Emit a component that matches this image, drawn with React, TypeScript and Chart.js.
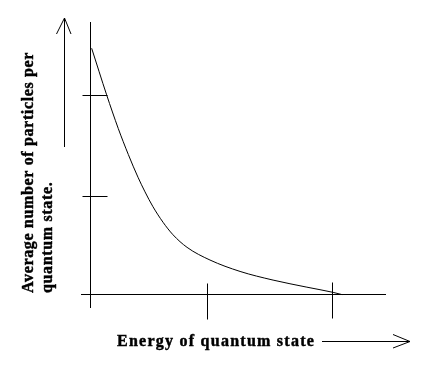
import React, { useEffect, useRef } from "react";
import { Chart, registerables } from "chart.js";

Chart.register(...registerables);

// Curve: average occupation vs energy
const curveX = [0.011, 0.139, 0.238, 0.324, 0.407, 0.467, 0.535, 0.621, 0.706, 0.826, 1.022, 1.279, 1.561, 1.85, 2.074, 2.151];
const curveY = [2.503, 2.029, 1.688, 1.423, 1.191, 1.042, 0.891, 0.733, 0.606, 0.478, 0.349, 0.233, 0.145, 0.073, 0.02, -0.003];

// Unlabelled tick marks
const xTickValues = [1.0, 2.07];
const yTickValues = [1.0, 2.024];

// Axis ranges
const xRange = [-0.08, 2.526];
const yRange = [-0.139, 2.77];

// Titles
const xTitle = "Energy of quantum state";
const yTitleLines = ["Average number of particles per", "quantum state."];

const FONT = 'bold 16px "Liberation Serif", "Times New Roman", serif';

function boldText(ctx: CanvasRenderingContext2D, text: string, x: number, y: number) {
  ctx.fillText(text, x, y);
  ctx.lineWidth = 0.45;
  ctx.strokeText(text, x, y);
}

const decorPlugin = {
  id: "decor",
  afterDraw(chart: any) {
    const { ctx, chartArea, scales } = chart;
    const xs = scales.x;
    const ys = scales.y;
    const x0 = Math.floor(xs.getPixelForValue(0)) + 0.5;
    const y0 = Math.floor(ys.getPixelForValue(0)) + 0.5;
    ctx.save();
    ctx.strokeStyle = "#000";
    ctx.lineWidth = 1;
    ctx.beginPath();
    // axes
    ctx.moveTo(x0, chartArea.top);
    ctx.lineTo(x0, chartArea.bottom);
    ctx.moveTo(chartArea.left, y0);
    ctx.lineTo(chartArea.right, y0);
    // y ticks
    yTickValues.forEach((v) => {
      const y = Math.floor(ys.getPixelForValue(v)) + 0.5;
      ctx.moveTo(x0 - 8, y);
      ctx.lineTo(x0 + 17, y);
    });
    // x ticks
    xTickValues.forEach((v, i) => {
      const x = Math.floor(xs.getPixelForValue(v)) + 0.5;
      ctx.moveTo(x, y0 - 11 - i);
      ctx.lineTo(x, y0 + 25 - i);
    });
    // y arrow
    ctx.moveTo(64.5, 147);
    ctx.lineTo(64.5, 18);
    ctx.moveTo(56.5, 34);
    ctx.lineTo(64.5, 18);
    ctx.lineTo(71, 34);
    // x arrow
    ctx.moveTo(322, 341.5);
    ctx.lineTo(410, 341.5);
    ctx.moveTo(393, 334.5);
    ctx.lineTo(410, 341.5);
    ctx.lineTo(393, 348);
    ctx.stroke();

    // titles
    ctx.fillStyle = "#000";
    ctx.font = FONT;
    ctx.textAlign = "left";
    ctx.textBaseline = "alphabetic";
    (ctx as any).letterSpacing = "1.25px";
    boldText(ctx, xTitle, 117, 346);

    (ctx as any).letterSpacing = "0.65px";
    yTitleLines.forEach((line, i) => {
      ctx.save();
      ctx.translate(33 + i * 19, 293);
      ctx.rotate(-Math.PI / 2);
      boldText(ctx, line, 0, 0);
      ctx.restore();
    });
    ctx.restore();
  },
};

export default function App() {
  const ref = useRef<HTMLCanvasElement | null>(null);
  useEffect(() => {
    if (!ref.current) return;
    const points = curveX.map((x, i) => ({ x, y: curveY[i] }));
    const chart = new Chart(ref.current, {
      type: "scatter",
      data: {
        datasets: [
          {
            data: points,
            showLine: true,
            borderColor: "#000",
            borderWidth: 1,
            pointRadius: 0,
            cubicInterpolationMode: "monotone",
            fill: false,
          } as any,
        ],
      },
      options: {
        responsive: false,
        animation: false,
        devicePixelRatio: 1,
        events: [],
        layout: { padding: { left: 81, right: 46, top: 22, bottom: 77 } },
        scales: {
          x: { type: "linear", min: xRange[0], max: xRange[1], display: false },
          y: { type: "linear", min: yRange[0], max: yRange[1], display: false },
        },
        plugins: { legend: { display: false }, tooltip: { enabled: false } },
      },
      plugins: [decorPlugin],
    });
    return () => chart.destroy();
  }, []);
  return (
    <div style={{ position: "fixed", left: 0, top: 0, width: 432, height: 385, background: "#fff" }}>
      <canvas ref={ref} width={432} height={385} style={{ display: "block" }} />
    </div>
  );
}
